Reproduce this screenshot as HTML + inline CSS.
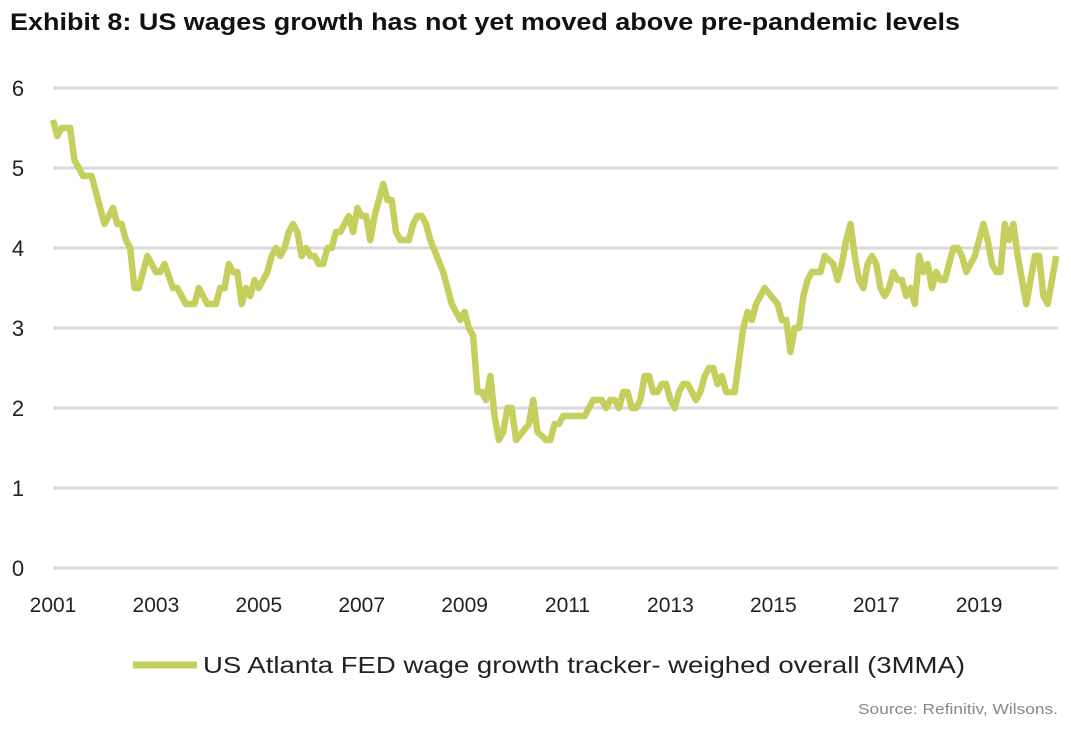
<!DOCTYPE html>
<html><head><meta charset="utf-8"><style>
body{margin:0;background:#fff;width:1071px;height:728px;overflow:hidden;font-family:"Liberation Sans",sans-serif}
</style></head><body>
<svg id="chart" width="1071" height="728" xmlns="http://www.w3.org/2000/svg">
<text x="10" y="30" font-size="24" font-weight="bold" fill="#111" textLength="950" lengthAdjust="spacingAndGlyphs">Exhibit 8: US wages growth has not yet moved above pre-pandemic levels</text>
<g id="grid"></g><g id="yt"></g><g id="xt"></g><g id="series"></g>
<line x1="133" y1="665" x2="197" y2="665" stroke="#c5cf5d" stroke-width="7"/>
<text x="203" y="673" font-size="23" fill="#222" textLength="762" lengthAdjust="spacingAndGlyphs">US Atlanta FED wage growth tracker- weighed overall (3MMA)</text>
<text x="1058" y="714" font-size="15" fill="#888" text-anchor="end" textLength="200" lengthAdjust="spacingAndGlyphs">Source: Refinitiv, Wilsons.</text>
</svg>
<script>
const months=[0,1,2,4,5,7,9,12,14,15,16,17,18,19,20,22,24,25,26,28,29,31,33,34,36,38,39,40,41,42,43,44,45,46,47,48,50,51,52,53,54,55,56,57,58,59,60,61,62,63,64,65,66,67,69,70,71,72,73,74,75,77,78,79,80,81,83,84,85,86,87,88,91,93,95,96,97,98,99,100,101,102,103,104,105,106,107,108,111,112,113,115,116,117,118,119,124,126,128,129,130,131,132,133,134,135,136,137,138,139,140,141,142,143,144,145,146,147,148,150,151,152,153,154,155,156,157,159,161,162,163,164,166,169,170,171,172,173,174,175,176,177,179,180,182,183,184,185,186,187,188,189,190,191,192,193,194,195,196,197,198,199,200,201,202,203,204,205,206,207,208,210,211,212,213,215,217,218,219,220,221,222,223,224,225,227,229,230,231,232,234];
const values=[5.6,5.4,5.5,5.5,5.1,4.9,4.9,4.3,4.5,4.3,4.3,4.1,4.0,3.5,3.5,3.9,3.7,3.7,3.8,3.5,3.5,3.3,3.3,3.5,3.3,3.3,3.5,3.5,3.8,3.7,3.7,3.3,3.5,3.4,3.6,3.5,3.7,3.9,4.0,3.9,4.0,4.2,4.3,4.2,3.9,4.0,3.9,3.9,3.8,3.8,4.0,4.0,4.2,4.2,4.4,4.2,4.5,4.4,4.4,4.1,4.4,4.8,4.6,4.6,4.2,4.1,4.1,4.3,4.4,4.4,4.3,4.1,3.7,3.3,3.1,3.2,3.0,2.9,2.2,2.2,2.1,2.4,1.9,1.6,1.7,2.0,2.0,1.6,1.8,2.1,1.7,1.6,1.6,1.8,1.8,1.9,1.9,2.1,2.1,2.0,2.1,2.1,2.0,2.2,2.2,2.0,2.0,2.1,2.4,2.4,2.2,2.2,2.3,2.3,2.1,2.0,2.2,2.3,2.3,2.1,2.2,2.4,2.5,2.5,2.3,2.4,2.2,2.2,3.0,3.2,3.1,3.3,3.5,3.3,3.1,3.1,2.7,3.0,3.0,3.4,3.6,3.7,3.7,3.9,3.8,3.6,3.8,4.1,4.3,3.9,3.6,3.5,3.8,3.9,3.8,3.5,3.4,3.5,3.7,3.6,3.6,3.4,3.5,3.3,3.9,3.7,3.8,3.5,3.7,3.6,3.6,4.0,4.0,3.9,3.7,3.9,4.3,4.1,3.8,3.7,3.7,4.3,4.1,4.3,3.9,3.3,3.9,3.9,3.4,3.3,3.9];
const yTicks=[0,1,2,3,4,5,6];
const xTickYears=[2001,2003,2005,2007,2009,2011,2013,2015,2017,2019];
const NS="http://www.w3.org/2000/svg";
const y=v=>568-v*80;
const x=m=>53+m*51.45/12;
const g=document.getElementById('grid'),yt=document.getElementById('yt'),xt=document.getElementById('xt');
yTicks.forEach(t=>{
 const l=document.createElementNS(NS,'line');
 l.setAttribute('x1',53);l.setAttribute('x2',1058);l.setAttribute('y1',y(t));l.setAttribute('y2',y(t));
 l.setAttribute('stroke','#d9d9d9');l.setAttribute('stroke-width','3');
 
 
 g.appendChild(l);
 const tx=document.createElementNS(NS,'text');
 tx.setAttribute('x',18);tx.setAttribute('y',y(t)+8);tx.setAttribute('font-size','22');tx.setAttribute('fill','#222');tx.setAttribute('text-anchor','middle');
 tx.textContent=t;
 
 
 yt.appendChild(tx);
});
xTickYears.forEach(yr=>{
 const tx=document.createElementNS(NS,'text');
 tx.setAttribute('x',x((yr-2001)*12));tx.setAttribute('y',612);tx.setAttribute('font-size','21');tx.setAttribute('fill','#222');tx.setAttribute('text-anchor','middle');
 tx.textContent=yr;
 
 
 xt.appendChild(tx);
});
const p=document.createElementNS(NS,'polyline');
p.setAttribute('points',months.map((m,i)=>x(m)+','+y(values[i])).join(' '));
p.setAttribute('fill','none');p.setAttribute('stroke','#c5cf5d');p.setAttribute('stroke-width','6.5');p.setAttribute('stroke-linejoin','round');


document.getElementById('series').appendChild(p);
</script>
</body></html>
